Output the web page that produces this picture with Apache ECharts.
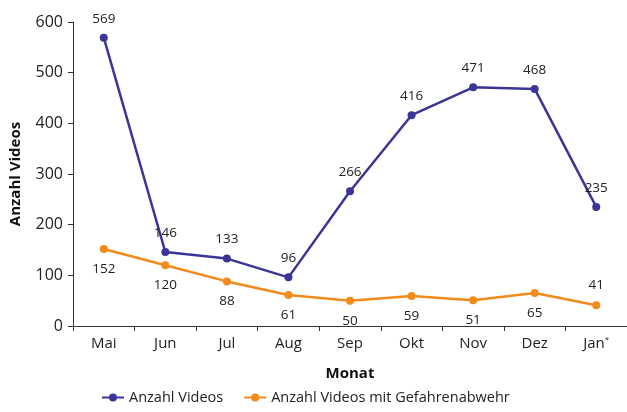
<!DOCTYPE html>
<html>
<head>
<meta charset="utf-8">
<script src="https://cdn.jsdelivr.net/npm/echarts@6/dist/echarts.min.js"></script>
<style>
  html, body { margin: 0; padding: 0; background: #fff; }
  #chart { width: 627px; height: 412px; }
</style>
</head>
<body>
<div id="chart"></div>
<script>
  var months = ['Mai', 'Jun', 'Jul', 'Aug', 'Sep', 'Okt', 'Nov', 'Dez', 'Jan*']
  var videos = [569, 146, 133, 96, 266, 416, 471, 468, 235]
  var gefahrenabwehr = [152, 120, 88, 61, 50, 59, 51, 65, 41]
  // where each orange label sits
  var orangePos = ['bottom', 'bottom', 'bottom', 'bottom', 'bottom', 'bottom', 'bottom', 'bottom', 'top']

  var font = 'Open Sans'
  var chart = echarts.init(document.getElementById('chart'))

  chart.setOption({
    animation: false,
    textStyle: { fontFamily: font },
    grid: { left: 71, right: 0, top: 22, bottom: 86 },
    legend: {
      bottom: 2,
      left: 96,
      itemGap: 20,
      itemWidth: 22,
      itemHeight: 10,
      textStyle: { fontSize: 14.5, color: '#222', fontFamily: font },
      data: ['Anzahl Videos', 'Anzahl Videos mit Gefahrenabwehr']
    },
    xAxis: {
      type: 'category',
      data: months,
      name: 'Monat',
      nameLocation: 'middle',
      nameGap: 40,
      nameTextStyle: { fontSize: 15, fontWeight: 'bold', color: '#111' },
      axisLine: { lineStyle: { color: '#333' } },
      axisTick: { show: true, alignWithLabel: false, lineStyle: { color: '#333' } },
      axisLabel: {
        interval: 0,
        fontSize: 15, color: '#222', margin: 10,
        formatter: function (v) { return v === 'Jan*' ? 'Jan{s|*}' : v },
        rich: { s: { fontSize: 8, verticalAlign: 'top', padding: [0, 0, 8, 0], color: '#222' } }
      }
    },
    yAxis: {
      type: 'value',
      min: 0,
      max: 600,
      interval: 100,
      name: 'Anzahl Videos',
      nameLocation: 'middle',
      nameGap: 50,
      nameTextStyle: { fontSize: 15, fontWeight: 'bold', color: '#111' },
      axisLine: { show: true, lineStyle: { color: '#333' } },
      axisTick: { show: true, lineStyle: { color: '#333' } },
      axisLabel: { fontSize: 16, color: '#222', margin: 10 },
      splitLine: { show: false }
    },
    series: [
      {
        name: 'Anzahl Videos',
        type: 'line',
        data: videos,
        symbol: 'circle',
        symbolSize: 8,
        color: '#3a3596',
        lineStyle: { width: 2.5, color: '#3a3596' },
        label: { show: true, position: 'top', fontSize: 13.5, color: '#222', distance: 8 }
      },
      {
        name: 'Anzahl Videos mit Gefahrenabwehr',
        type: 'line',
        data: gefahrenabwehr.map(function (v, i) {
          return { value: v, label: { position: orangePos[i] } }
        }),
        symbol: 'circle',
        symbolSize: 8,
        color: '#f28a1c',
        lineStyle: { width: 2.5, color: '#f28a1c' },
        label: { show: true, fontSize: 13.5, color: '#222', distance: 9 }
      }
    ]
  })
</script>
</body>
</html>
